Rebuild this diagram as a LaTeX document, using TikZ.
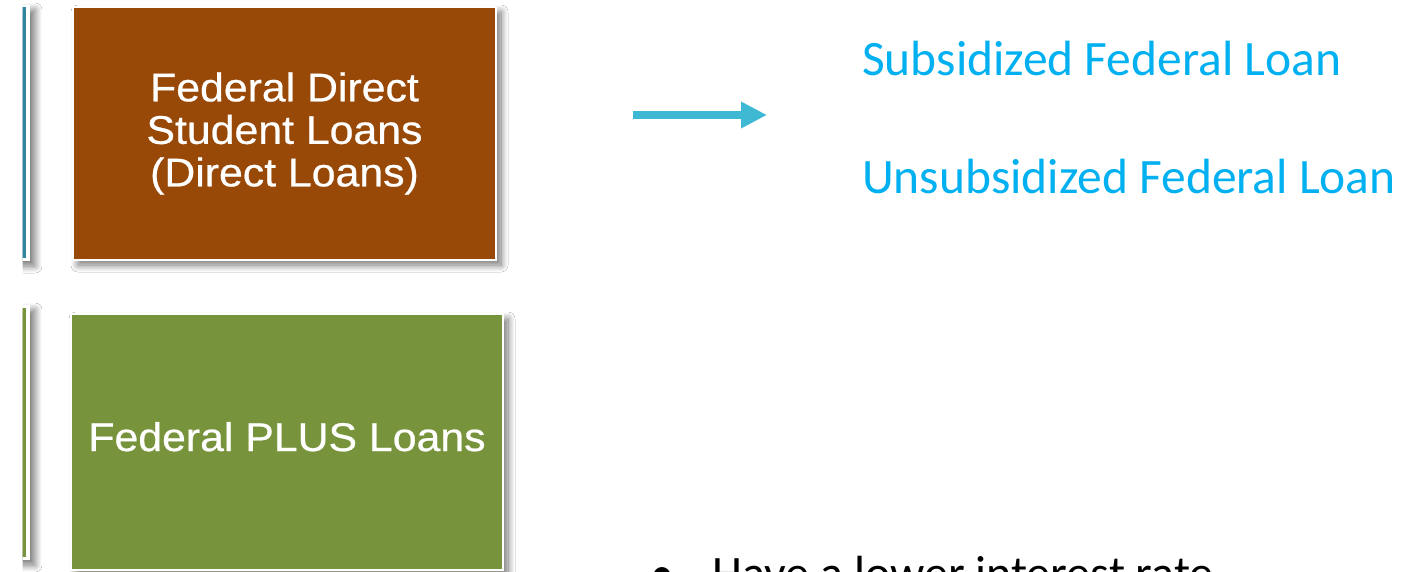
\documentclass[tikz,border=0pt]{standalone}
\usepackage{fontspec}
\setmainfont{Carlito}
\newfontfamily\arialw[FakeStretch=1.07,FakeBold=0.6]{Liberation Sans}
\usetikzlibrary{arrows.meta,shadows.blur}
\definecolor{brownbox}{HTML}{984807}
\definecolor{greenbox}{HTML}{77933C}
\definecolor{tealline}{HTML}{31859C}
\definecolor{arrowblue}{HTML}{3FB8D3}
\definecolor{loanblue}{HTML}{00B0F0}
\tikzset{
  softshadow/.style={blur shadow={shadow xshift=5pt, shadow yshift=-5pt, shadow blur radius=7pt, shadow blur steps=14, shadow opacity=55}},
  loanbox/.style={draw=white, line width=2pt, inner sep=0pt, softshadow,
    text=white, align=center, font=\arialw\fontsize{40}{42.5}\selectfont},
  loantype/.style={anchor=base west, text=loanblue, inner sep=0pt, font=\fontsize{49.5}{55}\selectfont},
  bodytext/.style={anchor=base west, text=black, inner sep=0pt, font=\fontsize{48}{55}\selectfont},
  fatarrow/.style={draw=arrowblue, line width=8pt, -{Triangle[length=26pt,width=25pt]}}
}
\begin{document}
\begin{tikzpicture}[x=1pt,y=-1pt]
\useasboundingbox (0,0) rectangle (1409,572);
\fill[white] (0,0) rectangle (1409,572);
\clip (0,0) rectangle (1409,572);
% partial boxes at the left edge
\begin{scope}
  \clip (22.5,0) rectangle (200,572);
  \fill[white, softshadow] (-400,5) rectangle (30,261);
  \fill[tealline] (-400,7) rectangle (25.5,258);
  \fill[white, softshadow] (-400,305) rectangle (30,560);
  \fill[greenbox] (-400,308) rectangle (25.5,557);
\end{scope}
% main boxes
\node[loanbox, fill=brownbox, minimum width=423pt, minimum height=253pt] (direct) at (284.5,133.5)
  {Federal Direct\\Student Loans\\(Direct Loans)};
\node[loanbox, fill=greenbox, minimum width=432pt, minimum height=256pt, text height=29pt, text depth=11pt] (plus) at (287,442)
  {Federal PLUS Loans};
% arrow
\coordinate (arrowstart) at (633,115);
\coordinate (arrowend) at (767,115);
\draw[fatarrow] (arrowstart) -- (arrowend);
% loan types
\node[loantype] (sub) at (862,75.5) {Subsidized Federal Loan};
\node[loantype] (unsub) at (862,194) {Unsubsidized Federal Loan};
% bullet
\node[bodytext] (bullet) at (650,589) {•};
\node[bodytext] (lower) at (712,589) {Have a lower interest rate};
\end{tikzpicture}
\end{document}
